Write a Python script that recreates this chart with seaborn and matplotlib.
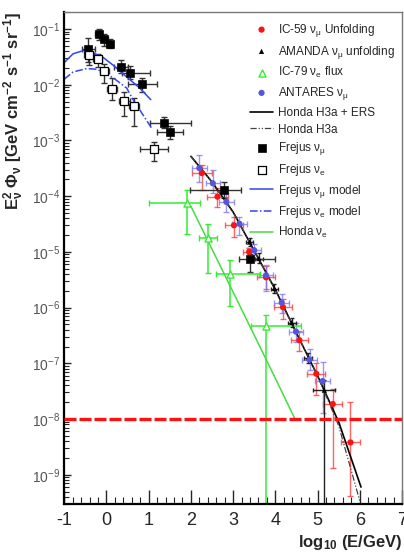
import matplotlib
matplotlib.use("Agg")
import matplotlib.pyplot as plt
import matplotlib.ticker as mticker
import numpy as np
import seaborn as sns

# IC-59 numu unfolding (red)
ic59_x = [2.26, 2.63, 3.02, 3.38, 3.78, 4.18, 4.57, 4.97, 5.36, 5.78]
ic59_y = [2.6e-4, 9.8e-5, 3.0e-5, 1.0e-5, 3.5e-6, 1.02e-6, 2.6e-7, 6.5e-8, 1.86e-8, 3.8e-9]
ic59_xerr = [0.23, 0.24, 0.22, 0.14, 0.21, 0.21, 0.21, 0.21, 0.22, 0.22]
ic59_ylo = [1.29e-4, 6.5e-5, 1.86e-5, 7.2e-6, 2.2e-6, 6.2e-7, 1.66e-7, 2.7e-8, 1.3e-9, 4.2e-10]
ic59_yhi = [3.6e-4, 1.38e-4, 4.3e-5, 1.17e-5, 5.6e-6, 1.45e-6, 3.8e-7, 1.0e-7, 3.4e-8, 2.0e-8]

# ANTARES numu (blue)
ant_x = [2.20, 2.52, 2.84, 3.15, 3.50, 3.78, 4.15, 4.49, 4.81, 5.12]
ant_y = [3.2e-4, 1.7e-4, 7.9e-5, 3.2e-5, 1.07e-5, 3.8e-6, 1.23e-6, 3.7e-7, 1.17e-7, 4.8e-8]
ant_xerr = [0.17] * 10
ant_ylo = [1.8e-4, 1.12e-4, 5.2e-5, 2.0e-5, 7.9e-6, 2.0e-6, 7.9e-7, 2.4e-7, 7.6e-8, 1.26e-8]
ant_yhi = [5.6e-4, 3.0e-4, 1.12e-4, 4.2e-5, 1.4e-5, 5.8e-6, 1.74e-6, 5.2e-7, 1.78e-7, 1.07e-7]

# AMANDA numu unfolding (black triangles)
ama_x = [3.39, 3.61, 3.98, 4.39, 4.78, 5.16]
ama_y = [1.5e-5, 7.6e-6, 2.2e-6, 5.4e-7, 1.26e-7, 3.3e-8]
ama_xerr = [0.08, 0.10, 0.09, 0.10, 0.10, 0.26]
ama_ylo = [1.25e-5, 6.2e-6, 1.85e-6, 4.4e-7, 1.0e-7, 1e-12]
ama_yhi = [1.8e-5, 9.5e-6, 2.6e-6, 6.6e-7, 1.55e-7, 5.0e-8]

# IC-79 nue flux (green open triangles)
ic79_x = [1.91, 2.40, 2.93, 3.77]
ic79_y = [7.4e-5, 1.74e-5, 4.0e-6, 4.7e-7]
ic79_xlo = [1.01, 2.19, 2.60, 3.43]
ic79_xhi = [2.21, 2.62, 3.63, 4.60]
ic79_ylo = [2.1e-5, 4.1e-6, 1.05e-6, 1e-12]
ic79_yhi = [1.29e-4, 3.2e-5, 7.1e-6, 7.4e-7]

# Frejus numu (filled squares)
frm_x = [-0.43, -0.18, -0.05, 0.08, 0.34, 0.55, 0.85, 1.37, 1.51, 2.78, 3.41]
frm_y = [0.044, 0.081, 0.065, 0.055, 0.021, 0.0165, 0.0102, 0.0021, 0.0014, 1.3e-4, 7.6e-6]
frm_xlo = [-0.59, -0.26, -0.13, 0.0, 0.17, 0.36, 0.50, 1.03, 1.20, 1.99, 3.15]
frm_xhi = [-0.27, -0.10, 0.03, 0.16, 0.51, 1.02, 1.20, 2.01, 1.81, 3.18, 4.00]
frm_ylo = [0.026, 0.063, 0.050, 0.045, 0.016, 0.0125, 0.0075, 0.0017, 0.00105, 9.1e-5, 4.4e-6]
frm_yhi = [0.068, 0.100, 0.080, 0.065, 0.028, 0.022, 0.013, 0.0026, 0.0018, 1.8e-4, 9.3e-6]

# Frejus nue (open squares)
fre_x = [-0.41, -0.21, -0.05, 0.14, 0.42, 0.65, 1.13]
fre_y = [0.034, 0.029, 0.018, 0.0085, 0.0051, 0.0042, 7.1e-4]
fre_xerr = [0.12, 0.10, 0.10, 0.12, 0.13, 0.12, 0.33]
fre_ylo = [0.023, 0.021, 0.0107, 0.0053, 0.0028, 0.0018, 4.2e-4]
fre_yhi = [0.047, 0.036, 0.024, 0.0131, 0.0075, 0.0058, 9.5e-4]

# model curves
honda_ers_x = [2.0, 2.5, 3.0, 3.5, 4.0, 4.5, 5.0, 5.5, 6.03]
honda_ers_y = [5.2e-4, 1.8e-4, 5.2e-5, 1.05e-5, 2.1e-6, 3.5e-7, 6.0e-8, 8.9e-9, 6.0e-10]
honda_h3a_x = [2.0, 2.5, 3.0, 3.5, 4.0, 4.5, 5.0, 5.5, 6.01]
honda_h3a_y = [5.2e-4, 1.8e-4, 5.2e-5, 1.05e-5, 2.1e-6, 3.5e-7, 6.0e-8, 7.6e-9, 3.2e-10]
honda_nue_x = [2.0, 2.5, 3.0, 3.5, 4.0, 4.48]
honda_nue_y = [6.6e-5, 1.12e-5, 1.9e-6, 3.2e-7, 5.4e-8, 9.5e-9]
frm_model_x = [-1.0, -0.79, -0.55, -0.31, -0.08, 0.16, 0.48, 0.79, 1.05]
frm_model_y = [0.025, 0.036, 0.041, 0.037, 0.031, 0.0224, 0.0138, 0.0087, 0.0054]
fre_model_x = [-1.0, -0.79, -0.47, -0.23, 0.0, 0.24, 0.48, 0.63, 0.85, 1.07]
fre_model_y = [0.0126, 0.017, 0.0195, 0.019, 0.0158, 0.012, 0.0087, 0.0054, 0.003, 0.00166]

limit_y = 1e-8


def yerr(y, lo, hi):
    y, lo, hi = np.array(y), np.array(lo), np.array(hi)
    return [y - lo, hi - y]


sns.set_style("ticks")
plt.rcParams["font.family"] = ["Liberation Sans", "DejaVu Sans"]
plt.rcParams["mathtext.default"] = "regular"
plt.rcParams["axes.unicode_minus"] = False

fig = plt.figure(figsize=(4.04, 5.58), dpi=100)
ax = fig.add_axes([0.159, 0.097, 0.836, 0.881])
ax.set_yscale("log")

# error bars
ax.errorbar(ic59_x, ic59_y, xerr=ic59_xerr, yerr=yerr(ic59_y, ic59_ylo, ic59_yhi),
            fmt="none", ecolor="#ff3030", alpha=0.75, elinewidth=1, capsize=2)
ax.errorbar(ant_x, ant_y, xerr=ant_xerr, yerr=yerr(ant_y, ant_ylo, ant_yhi),
            fmt="none", ecolor="#7777ee", alpha=0.75, elinewidth=1, capsize=2)
ax.errorbar(ama_x, ama_y, xerr=ama_xerr, yerr=yerr(ama_y, ama_ylo, ama_yhi),
            fmt="none", ecolor="#222222", elinewidth=1, capsize=1.2)
ax.errorbar(ic79_x, ic79_y,
            xerr=[np.array(ic79_x) - np.array(ic79_xlo), np.array(ic79_xhi) - np.array(ic79_x)],
            yerr=yerr(ic79_y, ic79_ylo, ic79_yhi),
            fmt="none", ecolor="#33ee33", elinewidth=1.1, capsize=2)
ax.errorbar(frm_x, frm_y,
            xerr=[np.array(frm_x) - np.array(frm_xlo), np.array(frm_xhi) - np.array(frm_x)],
            yerr=yerr(frm_y, frm_ylo, frm_yhi),
            fmt="none", ecolor="#333333", elinewidth=1, capsize=2)
ax.errorbar(fre_x, fre_y, xerr=fre_xerr, yerr=yerr(fre_y, fre_ylo, fre_yhi),
            fmt="none", ecolor="#333333", elinewidth=1, capsize=2)

# model lines
sns.lineplot(x=honda_ers_x, y=honda_ers_y, ax=ax, color="black", lw=1.2,
             sort=False, estimator=None, label="Honda H3a + ERS")
sns.lineplot(x=honda_h3a_x, y=honda_h3a_y, ax=ax, color="#444444", lw=0.9,
             ls=(0, (5, 1.5, 1, 1.5, 1, 1.5)), sort=False, estimator=None, label="Honda H3a")
sns.lineplot(x=frm_model_x, y=frm_model_y, ax=ax, color="#3344ee", lw=1.1,
             sort=False, estimator=None, label=r"Frejus ν$_\mu$ model")
sns.lineplot(x=fre_model_x, y=fre_model_y, ax=ax, color="#3344ee", lw=1.1,
             ls=(0, (5, 1.5, 1, 1.5)), sort=False, estimator=None, label=r"Frejus ν$_e$ model")
sns.lineplot(x=honda_nue_x, y=honda_nue_y, ax=ax, color="#44dd44", lw=1.1,
             sort=False, estimator=None, label=r"Honda ν$_e$")

# markers
sns.scatterplot(x=ic59_x, y=ic59_y, ax=ax, color="#ff1111", s=20, edgecolor="none",
                zorder=4, label=r"IC-59 ν$_\mu$ Unfolding")
sns.scatterplot(x=ama_x, y=ama_y, ax=ax, color="black", marker="^", s=14, edgecolor="none",
                zorder=4, label=r"AMANDA ν$_\mu$ unfolding")
sns.scatterplot(x=ic79_x, y=ic79_y, ax=ax, marker="^", s=26, facecolor="white",
                edgecolor="#33ee33", linewidth=1, zorder=4, label=r"IC-79 ν$_e$ flux")
sns.scatterplot(x=ant_x, y=ant_y, ax=ax, color="#5555dd", s=20, edgecolor="none",
                zorder=4, label=r"ANTARES ν$_\mu$")
sns.scatterplot(x=frm_x, y=frm_y, ax=ax, color="black", marker="s", s=34, edgecolor="black",
                zorder=4, label=r"Frejus ν$_\mu$")
sns.scatterplot(x=fre_x, y=fre_y, ax=ax, marker="s", s=34, facecolor="white",
                edgecolor="black", linewidth=0.9, zorder=4, label=r"Frejus ν$_e$")

ax.axhline(limit_y, color="#ff1111", lw=2.4, ls=(0, (3.6, 0.9)), zorder=5)

ax.set_xlim(-1, 7)
ax.set_ylim(3e-10, 2e-1)

ax.xaxis.set_major_locator(mticker.MultipleLocator(1))
ax.xaxis.set_minor_locator(mticker.MultipleLocator(0.2))
ax.yaxis.set_major_locator(mticker.LogLocator(base=10, numticks=20))
ax.yaxis.set_minor_locator(mticker.LogLocator(base=10, subs=np.arange(2, 10), numticks=20))
ax.yaxis.set_minor_formatter(mticker.NullFormatter())

ax.tick_params(axis="x", which="major", direction="in", length=10, width=1, labelsize=13, pad=6)
ax.tick_params(axis="x", which="minor", direction="in", length=5, width=0.8)
ax.tick_params(axis="y", which="major", direction="in", length=5, width=1,
               labelsize=10, labelcolor="#555555", pad=3)
ax.tick_params(axis="y", which="minor", direction="in", length=3.5, width=0.8)

for side in ["left", "bottom"]:
    ax.spines[side].set_linewidth(1.6)
    ax.spines[side].set_color("black")
for side in ["top", "right"]:
    ax.spines[side].set_linewidth(1.0)
    ax.spines[side].set_color("#777777")

ax.set_xlabel(r"log$_{10}$ (E/GeV)", fontsize=12, fontweight="bold", loc="right", labelpad=3)
ax.set_ylabel(r"E$^2_\nu$ Φ$_\nu$ [GeV cm$^{-2}$ s$^{-1}$ sr$^{-1}$]",
              fontsize=12, fontweight="bold", loc="top", labelpad=4)

order = [r"IC-59 ν$_\mu$ Unfolding", r"AMANDA ν$_\mu$ unfolding", r"IC-79 ν$_e$ flux",
         r"ANTARES ν$_\mu$", "Honda H3a + ERS", "Honda H3a", r"Frejus ν$_\mu$",
         r"Frejus ν$_e$", r"Frejus ν$_\mu$ model", r"Frejus ν$_e$ model", r"Honda ν$_e$"]
handles, labels = ax.get_legend_handles_labels()
lookup = dict(zip(labels, handles))
ax.legend([lookup[k] for k in order], order, loc="upper right", bbox_to_anchor=(1.0, 0.995),
          frameon=False, fontsize=8.5, handlelength=2.0, labelspacing=0.4,
          handletextpad=0.4, borderaxespad=0.2)

fig.savefig("out.png", dpi=100)
